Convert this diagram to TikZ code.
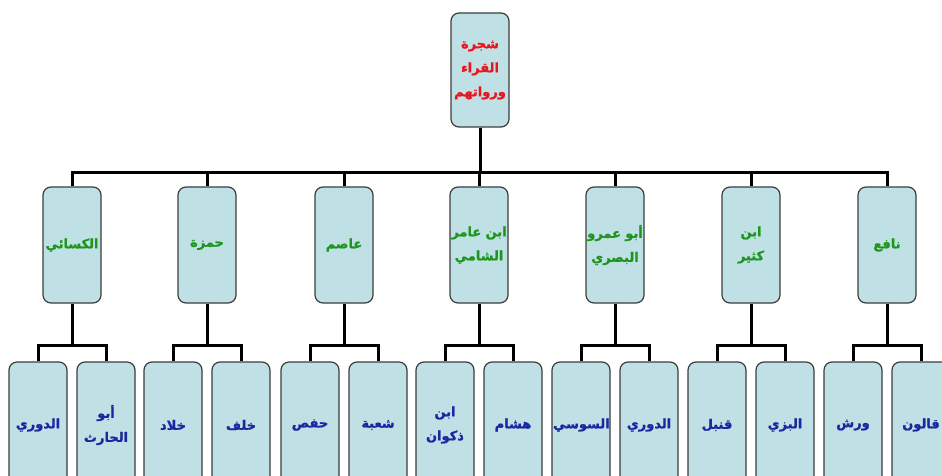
\documentclass[tikz,border=0pt]{standalone}
\usepackage{fontspec}
\newfontfamily\arabicfont[Script=Arabic, BoldFont={DejaVu Sans Bold}, BoldFeatures={FakeBold=1.2}]{DejaVu Sans}
\TeXXeTstate=1
\newcommand{\ar}[1]{{\arabicfont\bfseries\beginR #1\endR}}
\definecolor{boxfill}{RGB}{191,225,229}
\definecolor{boxline}{RGB}{60,60,60}
\definecolor{rootred}{RGB}{232,20,30}
\definecolor{lvgreen}{RGB}{30,150,30}
\definecolor{lvblue}{RGB}{25,40,160}
\tikzset{
  box/.style={draw=boxline, line width=1.2pt, fill=boxfill, rounded corners=8pt,
    text width=56pt, align=center, inner sep=1pt, font=\fontsize{13}{24}\selectfont},
  rootbox/.style={box, minimum height=114pt, text=rootred},
  midbox/.style={box, minimum height=116pt, text=lvgreen},
  leafbox/.style={box, minimum height=126pt, text=lvblue},
  conn/.style={draw=black, line width=3pt}
}
\begin{document}
\begin{tikzpicture}[x=1pt, y=-1pt]
\useasboundingbox (0,0) rectangle (942,476);
\clip (0,0) rectangle (942,476);
\fill[white] (0,0) rectangle (942,476);
% root
\node[rootbox] (root) at (480,70) {\ar{شجرة}\\\ar{القراء}\\\ar{ورواتهم}};
% level 2
\node[midbox] (kisai)  at (72,245)  {\ar{الكسائي}};
\node[midbox] (hamza)  at (207,245) {\ar{حمزة}};
\node[midbox] (asim)   at (344,245) {\ar{عاصم}};
\node[midbox] (amir)   at (479,245) {\ar{ابن عامر}\\\ar{الشامي}};
\node[midbox] (amr)    at (615,245) {\ar{أبو عمرو}\\\ar{البصري}};
\node[midbox] (kathir) at (751,245) {\ar{ابن}\\\ar{كثير}};
\node[midbox] (nafi)   at (887,245) {\ar{نافع}};
% level 3
\node[leafbox] (duri1)   at (38,425)  {\ar{الدوري}};
\node[leafbox] (harith)  at (106,425) {\ar{أبو}\\\ar{الحارث}};
\node[leafbox] (khallad) at (173,425) {\ar{خلاد}};
\node[leafbox] (khalaf)  at (241,425) {\ar{خلف}};
\node[leafbox] (hafs)    at (310,425) {\ar{حفص}};
\node[leafbox] (shuba)   at (378,425) {\ar{شعبة}};
\node[leafbox] (dhakwan) at (445,425) {\ar{ابن}\\\ar{ذكوان}};
\node[leafbox] (hisham)  at (513,425) {\ar{هشام}};
\node[leafbox] (susi)    at (581,425) {\ar{السوسي}};
\node[leafbox] (duri2)   at (649,425) {\ar{الدوري}};
\node[leafbox] (qunbul)  at (717,425) {\ar{قنبل}};
\node[leafbox] (bazzi)   at (785,425) {\ar{البزي}};
\node[leafbox] (warsh)   at (853,425) {\ar{ورش}};
\node[leafbox] (qalun)   at (921,425) {\ar{قالون}};
% connectors root -> level 2
\foreach \n in {kisai,hamza,asim,amir,amr,kathir,nafi}
  \draw[conn] (root.south) -- ++(0,45) -| (\n.north);
% connectors level 2 -> level 3
\foreach \p/\a/\b in {kisai/duri1/harith, hamza/khallad/khalaf, asim/hafs/shuba,
                      amir/dhakwan/hisham, amr/susi/duri2, kathir/qunbul/bazzi,
                      nafi/warsh/qalun}{
  \draw[conn] (\p.south) -- ++(0,42) -| (\a.north);
  \draw[conn] (\p.south) -- ++(0,42) -| (\b.north);
}
\end{tikzpicture}
\end{document}
